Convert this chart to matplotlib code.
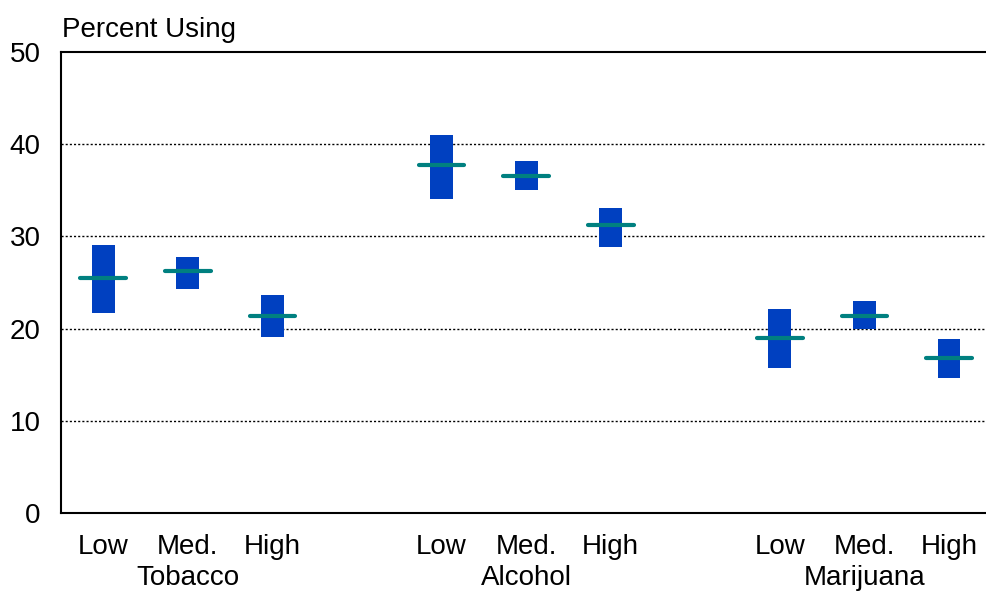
"""Plot substance use rates by risk level with confidence ranges."""

from __future__ import annotations

import matplotlib

matplotlib.use("Agg")

import matplotlib.pyplot as plt
from matplotlib.transforms import blended_transform_factory

SUBSTANCES = ["Tobacco", "Alcohol", "Marijuana"]
LEVELS = ["Low", "Med.", "High"]

# Percent using: point estimate, lower and upper bound per level.
ESTIMATES = [
    [25.5, 26.2, 21.4],
    [37.7, 36.6, 31.2],
    [19.0, 21.4, 16.8],
]
LOWER = [
    [21.7, 24.3, 19.1],
    [34.1, 35.0, 28.9],
    [15.7, 20.0, 14.6],
]
UPPER = [
    [29.1, 27.8, 23.6],
    [41.0, 38.2, 33.1],
    [22.1, 23.0, 18.9],
]

Y_TICKS = [0, 10, 20, 30, 40, 50]

BAR_COLOR = "#0040c0"
MEAN_COLOR = "#008080"


def save_figure(output_path: str) -> None:
    """Draw range bars with estimate markers for each group."""

    plt.rcParams["font.family"] = ["Liberation Sans", "DejaVu Sans"]

    figure = plt.figure(figsize=(9.87, 5.92), dpi=100)
    axes = figure.add_axes([0.0618, 0.1334, 0.9382, 0.7788])

    positions: list[float] = []
    group_centers: list[float] = []
    for group_index in range(len(SUBSTANCES)):
        start = group_index * (len(LEVELS) + 1)
        group = [start + offset for offset in range(len(LEVELS))]
        positions.extend(group)
        group_centers.append(sum(group) / len(group))

    lows = [value for row in LOWER for value in row]
    highs = [value for row in UPPER for value in row]
    means = [value for row in ESTIMATES for value in row]

    for y_value in Y_TICKS[1:-1]:
        axes.axhline(
            y_value,
            color="black",
            linewidth=1.0,
            linestyle=(0, (1.5, 1.5)),
            zorder=1,
        )

    axes.bar(
        positions,
        [high - low for low, high in zip(lows, highs)],
        bottom=lows,
        width=0.27,
        color=BAR_COLOR,
        zorder=2,
    )

    for position, mean in zip(positions, means):
        axes.plot(
            [position - 0.27, position + 0.27],
            [mean, mean],
            color=MEAN_COLOR,
            linewidth=3.0,
            solid_capstyle="round",
            zorder=3,
        )

    axes.set_xlim(-0.5, 10.45)
    axes.set_ylim(0, 50)
    axes.set_yticks(Y_TICKS)
    axes.set_xticks(positions, LEVELS * len(SUBSTANCES))
    axes.tick_params(axis="both", length=0, labelsize=20)
    axes.tick_params(axis="y", pad=14.5)
    axes.tick_params(axis="x", pad=15)

    for side in ("left", "bottom", "top"):
        axes.spines[side].set_linewidth(1.5)
    axes.spines["right"].set_visible(False)

    # Substance names sit under each group of three level labels.
    transform = blended_transform_factory(axes.transData, figure.transFigure)
    for center, name in zip(group_centers, SUBSTANCES):
        figure.text(
            center,
            0.012,
            name,
            transform=transform,
            ha="center",
            va="baseline",
            fontsize=20,
        )

    figure.text(
        0.0628,
        0.950,
        "Percent Using",
        ha="left",
        va="center",
        fontsize=20,
    )

    figure.savefig(output_path, dpi=100)
    plt.close(figure)


def main() -> None:
    save_figure("out.png")


if __name__ == "__main__":
    main()
